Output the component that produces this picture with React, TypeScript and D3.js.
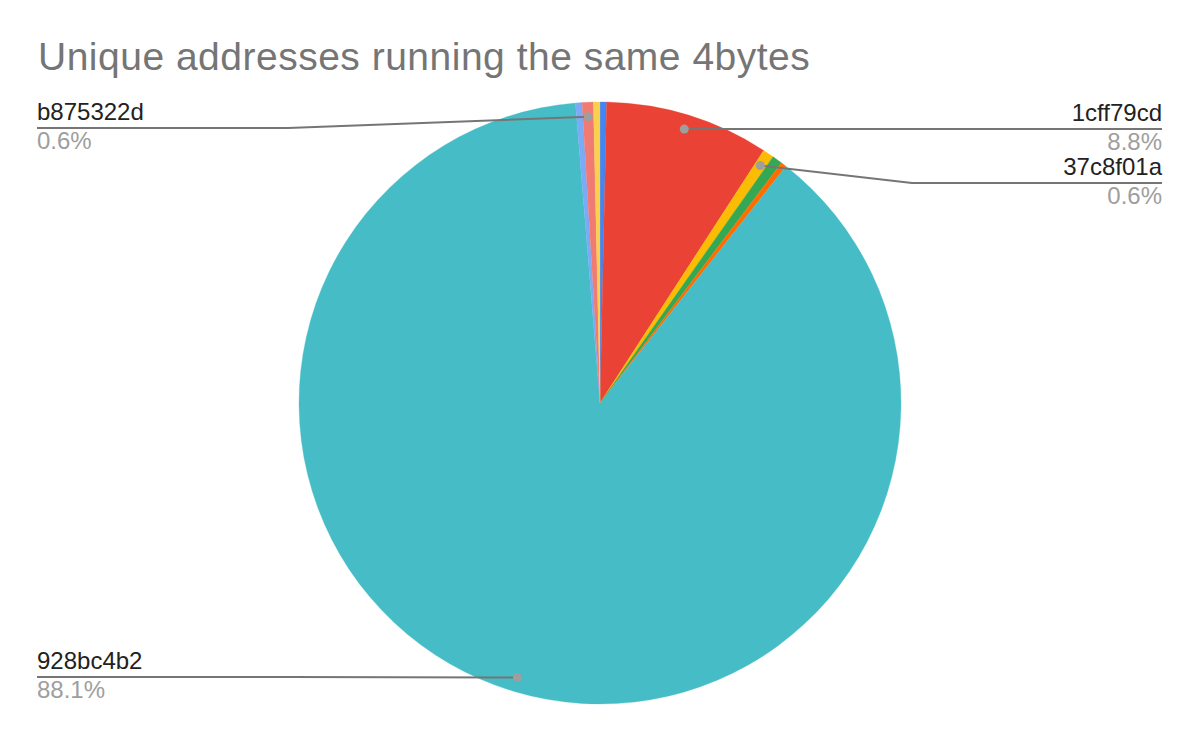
import React from "react";
import * as d3 from "d3";

const TITLE = "Unique addresses running the same 4bytes";
const sliceNames = ["s1", "1cff79cd", "37c8f01a", "s4", "s5", "928bc4b2", "s7", "b875322d", "s9"];
const sliceValues = [0.35, 8.8, 0.6, 0.55, 0.3, 88.1, 0.35, 0.6, 0.35];
const sliceColors = ["#4285f4", "#ea4335", "#fbbc04", "#34a853", "#ff6d01", "#46bdc6", "#7baaf7", "#f07b72", "#fcd04f"];
// labelled slices: name, side, y of leader line
const labelNames = ["b875322d", "1cff79cd", "37c8f01a", "928bc4b2"];
const labelSides = ["left", "right", "right", "left"];
const labelLineY = [128, 129, 183, 677];

const W = 1200;
const H = 742;
const cx = 600;
const cy = 403;
const R = 301;
const leftX = 37;
const rightX = 1162;
const leftElbow = 288;
const rightElbow = 912;

export default function App() {
  const data = sliceNames.map((n, i) => ({ name: n, value: sliceValues[i], color: sliceColors[i] }));
  const pie = d3.pie<any>().value((d) => d.value).sort(null).startAngle(0).endAngle(2 * Math.PI);
  const arcs = pie(data);
  const arcGen = d3.arc<any>().innerRadius(0).outerRadius(R);
  const total = d3.sum(sliceValues);
  const fmt = d3.format(".1%");

  return (
    <svg width={W} height={H} style={{ position: "absolute", left: 0, top: 0, background: "#fff" }}
      fontFamily="'Liberation Sans', Arial, Helvetica, sans-serif">
      <rect width={W} height={H} fill="#fff" />
      <text x={38} y={70} fontSize={39} letterSpacing={0.5} fill="#757575">{TITLE}</text>
      <g transform={`translate(${cx},${cy})`}>
        {arcs.map((a, i) => (
          <path key={i} d={arcGen(a) as string} fill={a.data.color} stroke={a.data.color} strokeWidth={0.3} />
        ))}
      </g>
      {labelNames.map((name, i) => {
        const a = arcs.find((x) => x.data.name === name)!;
        const mid = (a.startAngle + a.endAngle) / 2;
        const rr = R * 0.952;
        const dx = cx + rr * Math.sin(mid);
        const dy = cy - rr * Math.cos(mid);
        const side = labelSides[i];
        const ly = labelLineY[i];
        const left = side === "left";
        const textX = left ? leftX : rightX;
        const elbowX = left ? leftElbow : rightElbow;
        const anchor = left ? "start" : "end";
        const pct = fmt(a.data.value / total);
        return (
          <g key={name}>
            <polyline
              points={`${textX},${ly} ${elbowX},${ly} ${dx},${dy}`}
              fill="none" stroke="#757575" strokeWidth={2} />
            <circle cx={dx} cy={dy} r={4.5} fill="#9e9e9e" />
            <text x={textX} y={ly - 8} fontSize={24} fill="#222" textAnchor={anchor}>{name}</text>
            <text x={textX} y={ly + 21} fontSize={24} fill="#9e9e9e" textAnchor={anchor}>{pct}</text>
          </g>
        );
      })}
    </svg>
  );
}
